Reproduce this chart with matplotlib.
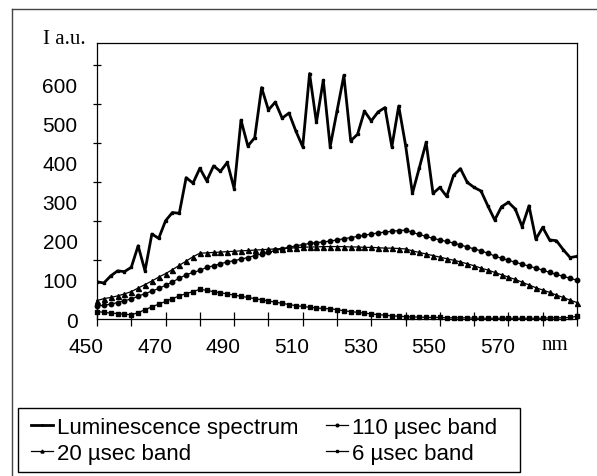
"""Luminescence spectrum and decay-time bands"""

import numpy as np
import matplotlib.pyplot as plt
from matplotlib.lines import Line2D
from matplotlib.patches import Rectangle
from matplotlib.transforms import ScaledTranslation

# wavelength grid (nm), one point every 2 nm
wavelength = np.arange(450, 591, 2)

luminescence = [95, 92, 110, 123, 121, 132, 187, 123, 217, 206,
                251, 272, 270, 361, 347, 385, 353, 391, 377, 400,
                333, 508, 442, 463, 591, 534, 554, 513, 526, 480,
                440, 627, 502, 610, 440, 531, 622, 455, 472, 531,
                506, 529, 540, 440, 544, 444, 321, 386, 451, 321,
                336, 313, 367, 384, 349, 336, 327, 289, 253, 287,
                298, 281, 236, 289, 204, 234, 202, 200, 177, 157, 160]

band_110 = [33, 35, 38, 42, 47, 51, 58, 65, 71, 78,
            86, 95, 104, 113, 119, 124, 132, 136, 141, 146,
            149, 153, 157, 162, 166, 170, 175, 180, 183, 187,
            190, 193, 195, 197, 199, 202, 205, 208, 211, 214,
            217, 220, 222, 224, 226, 227, 221, 216, 211, 206,
            202, 198, 194, 189, 184, 179, 174, 168, 161, 155,
            150, 145, 140, 135, 130, 125, 119, 114, 109, 104, 99]

band_20 = [47, 52, 55, 59, 64, 70, 79, 88, 97, 107,
           116, 126, 137, 148, 159, 168, 169, 170, 171, 172,
           173, 174, 175, 176, 177, 178, 179, 180, 181, 182,
           183, 184, 184, 185, 185, 185, 185, 184, 184, 183,
           183, 182, 181, 181, 180, 179, 174, 170, 166, 162,
           158, 154, 150, 146, 141, 136, 130, 125, 119, 113,
           107, 101, 94, 87, 80, 74, 68, 61, 55, 48, 42]

band_6 = [19, 17, 15, 14, 12, 11, 16, 24, 31, 38,
          45, 52, 59, 65, 70, 76, 73, 70, 67, 64,
          61, 58, 55, 52, 49, 46, 43, 40, 37, 34,
          32, 30, 28, 27, 26, 24, 21, 19, 17, 15,
          13, 11, 10, 8, 7, 6, 5, 5, 4, 4,
          4, 3, 3, 3, 3, 2, 2, 2, 2, 2,
          2, 2, 2, 2, 2, 2, 3, 3, 3, 4, 7]

x_ticks = np.arange(450, 591, 10)
x_labels = ['450', '', '470', '', '490', '', '510', '', '530', '', '550', '', '570', '', '']
y_labels = [0, 100, 200, 300, 400, 500, 600]
y_minor = [150, 250, 350, 450, 550, 650]

W, H = 597, 477
fig = plt.figure(figsize=(W / 100, H / 100), dpi=100)
ax = fig.add_axes([97 / W, 1 - 320 / H, 480 / W, 276 / H])

lum, = ax.plot(wavelength, luminescence, color='black', lw=2.0, marker='s', ms=1.8,
               label='Luminescence spectrum')
b110, = ax.plot(wavelength, band_110, color='black', lw=0.9, marker='o', ms=3.2,
                label='110 µsec band', clip_on=False)
b20, = ax.plot(wavelength, band_20, color='black', lw=0.9, marker='^', ms=3.6,
               label='20 µsec band', clip_on=False)
b6, = ax.plot(wavelength, band_6, color='black', lw=0.9, marker='s', ms=2.8,
              label='6 µsec band', clip_on=False)

ax.set_xlim(450, 590); ax.set_ylim(0, 705)
for s in ax.spines.values():
    s.set_linewidth(0.9); s.set_color('black')

ax.set_xticks(x_ticks); ax.set_xticklabels(x_labels)
ax.tick_params(axis='x', direction='inout', length=10, width=0.9, labelsize=15, pad=8)
ax.set_yticks(y_labels)
ax.set_yticks(y_minor, minor=True)
ax.tick_params(axis='y', which='major', length=0, labelsize=15, pad=14)
ax.tick_params(axis='y', which='minor', direction='inout', length=6, width=0.9)
for lbl in ax.get_xticklabels() + ax.get_yticklabels():
    lbl.set_fontfamily('Liberation Sans')
# the scanned axis puts the wavelength labels a little left of their ticks
shift = ScaledTranslation(-0.11, 0, fig.dpi_scale_trans)
for lbl in ax.get_xticklabels():
    lbl.set_transform(lbl.get_transform() + shift)

fig.text(64 / W, 1 - 40 / H, 'I a.u.', family='Liberation Serif', fontsize=15,
         ha='center', va='center')
fig.text(555 / W, 1 - 346 / H, 'nm', family='Liberation Serif', fontsize=15,
         ha='center', va='center')

# outer frame of the scanned figure
fig.add_artist(Line2D([12 / W, 12 / W], [0, 1 - 10 / H], transform=fig.transFigure,
                      color='#444444', lw=1))
fig.add_artist(Line2D([12 / W, 1], [1 - 10 / H, 1 - 10 / H], transform=fig.transFigure,
                      color='#444444', lw=1))

leg = fig.legend(handles=[lum, b20, b110, b6], ncol=2, loc='upper left',
                 bbox_to_anchor=(24 / W, 1 - 411 / H), borderaxespad=0, borderpad=0.3,
                 frameon=False, prop={'family': 'Liberation Sans', 'size': 16},
                 handlelength=1.0, handletextpad=0.2, columnspacing=1.2,
                 labelspacing=0.25, markerscale=0.6)
fig.add_artist(Rectangle((18 / W, 1 - 473 / H), 502 / W, 64 / H, transform=fig.transFigure,
                         fill=False, ec='black', lw=1))

fig.savefig('out.png', dpi=100)
